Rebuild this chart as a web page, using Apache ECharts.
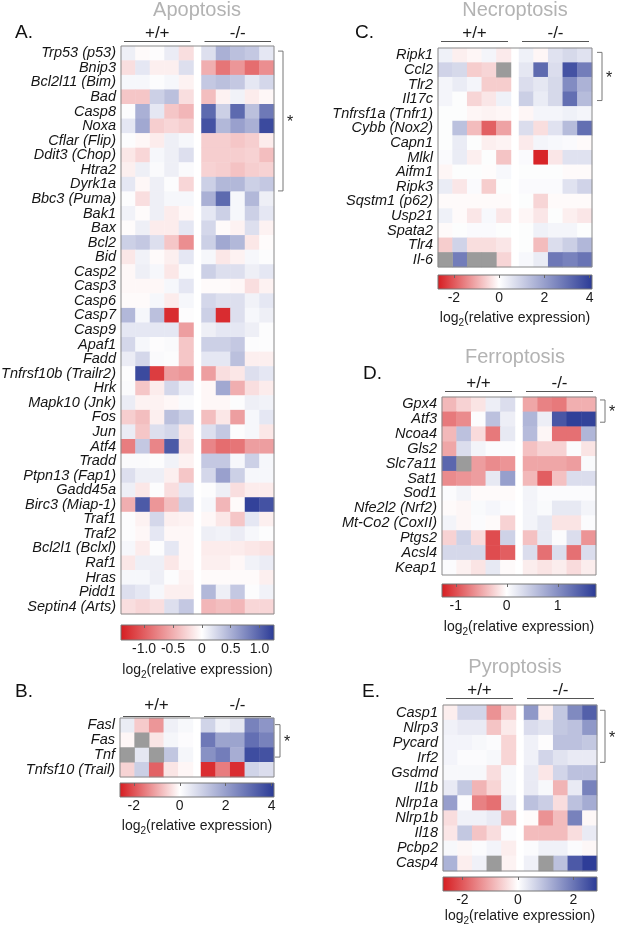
<!DOCTYPE html>
<html>
<head>
<meta charset="utf-8">
<script src="https://cdn.jsdelivr.net/npm/echarts@6/dist/echarts.min.js"></script>
<style>
html, body { margin: 0; padding: 0; background: #fff; }
#chart { width: 617px; height: 927px; }
</style>
</head>
<body>
<div id="chart"></div>
<script>
// ---- data (log2 relative expression, 5 +/+ and 5 -/- samples per gene) ----
const groupNames = ['+/+', '-/-']
const samples = ['1', '2', '3', '4', '5']

const apoGenes = ['Trp53 (p53)', 'Bnip3', 'Bcl2l11 (Bim)', 'Bad', 'Casp8', 'Noxa', 'Cflar (Flip)', 'Ddit3 (Chop)',
  'Htra2', 'Dyrk1a', 'Bbc3 (Puma)', 'Bak1', 'Bax', 'Bcl2', 'Bid', 'Casp2', 'Casp3', 'Casp6', 'Casp7', 'Casp9',
  'Apaf1', 'Fadd', 'Tnfrsf10b (Trailr2)', 'Hrk', 'Mapk10 (Jnk)', 'Fos', 'Jun', 'Atf4', 'Tradd', 'Ptpn13 (Fap1)',
  'Gadd45a', 'Birc3 (Miap-1)', 'Traf1', 'Traf2', 'Bcl2l1 (Bclxl)', 'Raf1', 'Hras', 'Pidd1', 'Septin4 (Arts)']
const apoWT = [
  [0.1, -0.03, 0.0, 0.12, -0.2], [-0.2, 0.15, -0.1, -0.1, 0.2], [0.05, 0.05, 0.02, 0.05, -0.08],
  [-0.35, -0.35, 0.3, 0.4, -0.2], [0.02, 0.5, 0.15, -0.35, -0.45], [0.15, 0.55, -0.3, -0.25, -0.3],
  [0.02, -0.05, -0.12, 0.1, 0.05], [-0.15, -0.25, 0.05, 0.1, 0.2], [-0.1, 0.1, 0.03, 0.1, 0.03],
  [0.15, -0.05, 0.1, 0.02, -0.25], [0.02, -0.2, 0.1, 0.05, 0.05], [0.08, -0.02, 0.1, -0.12, -0.05],
  [-0.02, 0.1, -0.12, -0.12, 0.15], [0.3, 0.35, 0.2, -0.35, -0.7], [-0.15, 0.08, -0.03, -0.1, 0.15],
  [-0.05, 0.1, 0.05, -0.15, 0.03], [-0.05, -0.05, -0.05, 0.05, 0.15], [-0.03, -0.03, 0.05, -0.12, 0.05],
  [0.45, 0.05, 0.4, -1.3, 0.0], [0.15, 0.15, 0.15, 0.15, -0.6], [0.25, 0.05, 0.0, 0.03, -0.35],
  [0.12, 0.25, 0.03, 0.02, -0.35], [0.02, 1.15, -1.2, -0.6, -0.65], [0.03, -0.35, -0.12, 0.25, 0.12],
  [0.12, -0.08, -0.08, -0.05, 0.03], [-0.3, -0.4, -0.1, 0.4, 0.3], [0.12, -0.35, 0.2, 0.25, -0.15],
  [-0.8, 0.35, -0.75, 1.05, -0.2], [0.03, 0.03, 0.02, 0.08, -0.08], [0.2, 0.1, 0.1, -0.1, -0.35],
  [0.1, -0.15, 0.02, -0.2, 0.15], [-0.5, 1.05, -0.65, -0.4, 0.3], [0.02, -0.08, 0.25, -0.1, -0.08],
  [0.02, -0.05, 0.15, -0.05, -0.05], [0.05, -0.12, 0.02, 0.15, -0.05], [-0.15, 0.1, 0.1, -0.15, -0.05],
  [0.05, 0.05, 0.1, 0.02, -0.08], [0.2, 0.15, 0.05, -0.1, -0.1], [-0.2, -0.25, -0.2, 0.2, 0.35]
]
const apoKO = [
  [0.2, 0.5, 0.4, 0.35, 0.15], [-0.5, -0.85, -0.65, -0.9, -0.7], [0.35, 0.4, 0.35, 0.15, 0.25],
  [-0.4, -0.08, 0.08, -0.12, -0.05], [0.95, 0.3, 0.95, 0.4, 0.85], [1.1, 0.45, 0.6, 0.5, 1.15],
  [-0.3, -0.3, -0.35, -0.3, -0.12], [-0.3, -0.3, -0.3, -0.28, -0.4], [-0.28, -0.3, -0.38, -0.3, -0.28],
  [0.3, 0.45, 0.45, 0.3, 0.35], [0.5, 0.95, 0.05, 0.45, 0.1], [0.15, 0.3, 0.05, 0.3, 0.15],
  [0.25, -0.03, -0.08, 0.2, -0.08], [0.3, 0.55, 0.45, -0.15, -0.02], [0.05, -0.15, -0.08, 0.05, 0.02],
  [0.3, 0.2, 0.2, 0.1, 0.15], [-0.03, -0.03, -0.05, -0.2, -0.08], [0.25, 0.2, 0.2, 0.08, 0.15],
  [0.3, -1.3, 0.2, 0.05, 0.1], [0.1, 0.15, 0.15, 0.1, 0.02], [0.3, 0.3, 0.35, 0.02, 0.02],
  [0.15, 0.15, 0.4, -0.1, -0.1], [-0.6, -0.2, -0.15, 0.2, 0.15], [-0.05, 0.55, -0.5, -0.2, -0.12],
  [-0.05, -0.05, 0.02, 0.1, 0.08], [-0.4, -0.15, -0.6, 0.05, 0.15], [0.2, 0.35, 0.02, 0.05, -0.15],
  [-0.75, -0.9, -0.85, -0.6, -0.6], [0.35, 0.35, 0.05, 0.3, 0.05], [0.25, 0.6, 0.3, 0.05, 0.05],
  [0.02, 0.1, -0.2, -0.12, -0.12], [0.05, -0.45, -0.03, 1.2, 1.1], [-0.05, -0.15, -0.35, 0.15, -0.1],
  [0.1, 0.08, 0.12, 0.05, 0.02], [-0.12, -0.12, -0.12, -0.15, -0.18], [-0.1, -0.1, -0.05, 0.08, 0.12],
  [-0.03, -0.03, -0.03, -0.03, -0.1], [0.45, 0.1, 0.35, 0.02, 0.08], [-0.45, -0.4, -0.45, -0.25, -0.25]
]
const apoRange = [-1.4, 1.25]
const apoTicks = [-1.0, -0.5, 0, 0.5, 1.0]

const extGenes = ['Fasl', 'Fas', 'Tnf', 'Tnfsf10 (Trail)']
const extWT = [[0.4, -0.6, -1.2, 0.3, 0.15], [-0.1, null, -0.3, 0.2, 0.05], [null, 0.5, null, 1.2, 0.2], [-0.5, 1.0, -1.8, -0.3, -0.1]]
const extKO = [[0.9, 0.3, 0.5, 2.6, 2.2], [2.8, 1.9, 1.9, 3.0, 2.6], [2.3, 2.7, 1.7, 3.7, 3.6], [-2.4, -1.5, -2.4, 0.9, 0.7]]
const extRange = [-2.6, 4.1]
const extTicks = [-2, 0, 2, 4]

const necGenes = ['Ripk1', 'Ccl2', 'Tlr2', 'Il17c', 'Tnfrsf1a (Tnfr1)', 'Cybb (Nox2)', 'Capn1', 'Mlkl', 'Aifm1',
  'Ripk3', 'Sqstm1 (p62)', 'Usp21', 'Spata2', 'Tlr4', 'Il-6']
const necWT = [
  [0.3, -0.2, -0.1, 0.2, -0.25], [0.9, 0.8, -0.6, -0.5, null], [0.2, 0.4, 0.2, -0.6, -0.6], [0.2, 0.05, -0.5, -0.3, 0.3],
  [0.05, 0.05, -0.1, -0.15, -0.1], [0.05, 1.3, -0.8, -1.9, -1.1], [0.05, 0.4, 0.05, -0.2, -0.15], [0.1, 0.4, -0.2, 0.05, -0.7],
  [-0.1, 0.05, 0.05, -0.02, 0.15], [0.4, -0.3, 0.1, -0.6, 0.05], [-0.05, -0.05, -0.05, -0.05, -0.05], [0.3, -0.05, -0.3, 0.15, -0.3],
  [-0.05, 0.05, 0.1, 0.1, 0.05], [-0.6, 0.9, -0.4, -0.4, -0.3], [null, 2.7, null, null, -0.5]
]
const necKO = [
  [0.3, -0.1, 0.6, 0.8, 0.6], [0.5, 3.1, 0.7, 3.6, 2.7], [0.7, 0.5, 0.8, 2.4, 1.6], [1.0, 0.4, 0.8, 3.0, 1.4],
  [-0.1, 0.2, 0.2, 0.3, 0.2], [0.7, -0.4, 0.6, 1.4, 3.0], [-0.25, 0.2, 0.15, 0.1, -0.05], [0.1, -2.6, -0.3, 0.6, 0.6],
  [0.05, 0.05, 0.05, -0.05, -0.05], [0.1, 0.1, 0.1, 0.6, 0.9], [0.05, -0.5, -0.05, -0.05, -0.05], [-0.1, -0.3, 0.05, -0.2, -0.3],
  [0.05, 0.3, 0.2, 0.2, 0.05], [0.05, -0.8, 0.7, 1.0, 1.5], [0.15, 0.4, 2.8, 2.6, 2.9]
]
const necRange = [-2.7, 4.1]
const necTicks = [-2, 0, 2, 4]

const ferGenes = ['Gpx4', 'Atf3', 'Ncoa4', 'Gls2', 'Slc7a11', 'Sat1', 'Sod1', 'Nfe2l2 (Nrf2)', 'Mt-Co2 (CoxII)',
  'Ptgs2', 'Acsl4', 'Keap1']
const ferWT = [
  [-0.4, -0.25, -0.15, 0.15, 0.3], [-0.75, -0.65, 0.02, 0.55, 0.15], [-0.4, 0.55, -0.2, -0.75, 0.2],
  [-0.5, 0.3, 0.1, 0.03, 0.03], [1.35, null, -0.55, -0.65, -0.6], [-0.65, -0.6, -0.55, 0.2, 0.85],
  [0.03, 0.1, -0.03, -0.03, -0.03], [-0.03, -0.05, 0.05, 0.08, 0.03], [0.1, -0.05, 0.03, -0.03, -0.25],
  [-0.25, 0.4, -0.2, -1.0, 0.4], [0.35, 0.35, 0.35, -1.0, -0.9], [0.03, -0.08, -0.15, 0.2, -0.03]
]
const ferKO = [
  [-0.5, -0.7, -0.75, -0.45, -0.45], [0.65, 0.15, 1.5, 1.7, 1.68], [0.6, -0.05, -0.8, -0.8, 0.65],
  [-0.35, -0.25, -0.25, 0.03, -0.15], [-0.5, -0.5, -0.5, -0.55, 0.05], [-0.4, -0.9, -0.35, 0.3, 0.3],
  [0.1, 0.03, 0.03, 0.03, 0.03], [0.1, 0.05, 0.2, 0.2, 0.1], [0.1, 0.2, -0.15, -0.15, 0.03],
  [-0.35, 0.2, 0.03, 0.3, -0.6], [0.3, -0.8, 0.3, -0.8, 0.3], [-0.1, -0.15, -0.1, -0.2, -0.1]
]
const ferRange = [-1.27, 1.75]
const ferTicks = [-1, 0, 1]

const pyrGenes = ['Casp1', 'Nlrp3', 'Pycard', 'Irf2', 'Gsdmd', 'Il1b', 'Nlrp1a', 'Nlrp1b', 'Il18', 'Pcbp2', 'Casp4']
const pyrWT = [
  [-0.2, 0.6, 0.6, -1.3, -0.6], [0.2, 0.3, 0.3, -0.7, -0.25], [0.15, 0.15, 0.1, 0.05, -0.5], [0.15, 0.05, 0.05, 0.1, -0.5],
  [0.1, 0.1, 0.1, -0.4, 0.1], [0.3, 0.8, -0.9, -0.5, 0.1], [1.4, 0.05, -1.5, -1.7, 0.3], [-0.4, 0.2, 0.2, 0.3, -0.9],
  [-0.3, 0.8, -0.7, -0.4, 0.05], [0.1, -0.1, 0.05, 0.15, -0.2], [1.1, -0.2, 0.2, null, -0.15]
]
const pyrKO = [
  [1.5, -0.2, 0.8, 1.7, 2.3], [0.5, 0.4, 0.8, 0.9, 1.5], [0.2, 0.02, 0.9, 0.9, 0.8], [0.2, 0.6, 0.4, 0.3, 0.3],
  [0.3, -0.3, 0.6, 0.9, 0.9], [0.3, 0.1, -0.9, 0.3, 1.8], [0.9, 0.7, -0.4, 0.9, 1.2], [-0.05, -1.3, -0.8, 1.8, -0.1],
  [-0.8, -0.8, -0.8, -0.4, 0.3], [0.05, 0.2, 0.2, 0.05, -0.1], [0.2, null, 0.9, 2.4, 2.8]
]
const pyrRange = [-2.7, 2.85]
const pyrTicks = [-2, 0, 2]

// ---- layout (pixels) ----
const layout = {
  A: { L: 121, R: 274, T: 46, B: 614, barT: 625, barB: 640, headY: 33, lineY: 41, tagX: 15, tagY: 33, titleX: 197, titleY: 10, logY: 670, braceX: 283, brace: [0.35, 9.95] },
  B: { L: 120, R: 274, T: 718, B: 777, barT: 783, barB: 797, headY: 705, lineY: 716, tagX: 15, tagY: 692, logY: 826, braceX: 280, brace: [0.45, 2.65] },
  C: { L: 438, R: 592, T: 48, B: 267, barT: 275, barB: 289, headY: 33, lineY: 41, tagX: 355, tagY: 33, titleX: 515, titleY: 10, logY: 318, braceX: 602, brace: [0.3, 3.6] },
  D: { L: 442, R: 596, T: 397, B: 575, barT: 584, barB: 597, headY: 383, lineY: 391, tagX: 363, tagY: 374, titleX: 515, titleY: 357, logY: 627, braceX: 605, brace: [0.2, 1.7] },
  E: { L: 443, R: 597, T: 705, B: 871, barT: 877, barB: 891, headY: 690, lineY: 698, tagX: 362, tagY: 692, titleX: 515, titleY: 667, logY: 916, braceX: 605, brace: [0.35, 3.8] }
}

const panels = [
  { key: 'A', title: 'Apoptosis', genes: apoGenes, wt: apoWT, ko: apoKO, range: apoRange, ticks: apoTicks, digits: 1 },
  { key: 'B', title: '', genes: extGenes, wt: extWT, ko: extKO, range: extRange, ticks: extTicks, digits: 0 },
  { key: 'C', title: 'Necroptosis', genes: necGenes, wt: necWT, ko: necKO, range: necRange, ticks: necTicks, digits: 0 },
  { key: 'D', title: 'Ferroptosis', genes: ferGenes, wt: ferWT, ko: ferKO, range: ferRange, ticks: ferTicks, digits: 0 },
  { key: 'E', title: 'Pyroptosis', genes: pyrGenes, wt: pyrWT, ko: pyrKO, range: pyrRange, ticks: pyrTicks, digits: 0 }
]

const FONT = '"Liberation Sans", Arial, Helvetica, sans-serif'
const RED = [214, 28, 32]
const WHITE = [255, 255, 255]
const BLUE = [42, 58, 150]
const GAP = 8

const mix = (a, b, t) => 'rgb(' + a.map((v, i) => Math.round(v + (b[i] - v) * t)).join(',') + ')'
const colorAt = (v, min, max) => (v < 0 ? mix(WHITE, RED, v / min) : mix(WHITE, BLUE, v / max))

const grid = []
const xAxis = []
const yAxis = []
const series = []
const visualMap = []
const graphic = []

const txt = (x, y, text, size, color, extra) => ({
  type: 'text', x: x, y: y, z: 100,
  style: Object.assign({ text: text, fontSize: size, fontFamily: FONT, fill: color, align: 'center', verticalAlign: 'middle', textAlign: 'center', textVerticalAlign: 'middle' }, extra || {})
})
const seg = (x1, y1, x2, y2, color) => ({
  type: 'line', z: 100, shape: { x1: x1, y1: y1, x2: x2, y2: y2 }, style: { stroke: color, lineWidth: 1 }
})

panels.forEach((p) => {
  const lay = layout[p.key]
  const cw = (lay.R - lay.L - GAP) / 10
  const h = lay.B - lay.T
  const rowH = h / p.genes.length
  const min = p.range[0]
  const max = p.range[1]
  const valueSeries = []

  ;[p.wt, p.ko].forEach((rows, half) => {
    const gi = grid.length
    const left = lay.L + half * (5 * cw + GAP)
    grid.push({ left: left, top: lay.T, width: 5 * cw, height: h, outerBoundsMode: 'none' })
    const xi = xAxis.length
    xAxis.push({ type: 'category', gridIndex: gi, data: samples, show: false })
    const yi = yAxis.length
    yAxis.push({
      type: 'category', gridIndex: gi, data: p.genes, inverse: true, show: half === 0,
      axisLine: { show: false }, axisTick: { show: false },
      axisLabel: { interval: 0, margin: 5, fontSize: 14.5, fontStyle: 'italic', fontFamily: FONT, color: '#151515' }
    })
    const vals = []
    const missing = []
    rows.forEach((r, ri) => r.forEach((v, ci) => {
      if (v === null) missing.push([ci, ri, 0])
      else vals.push([ci, ri, v])
    }))
    valueSeries.push(series.length)
    series.push({ type: 'heatmap', xAxisIndex: xi, yAxisIndex: yi, data: vals, itemStyle: { borderWidth: 0 }, emphasis: { disabled: true } })
    if (missing.length) {
      series.push({ type: 'heatmap', xAxisIndex: xi, yAxisIndex: yi, data: missing, itemStyle: { color: '#9b9b9b', borderWidth: 0 }, emphasis: { disabled: true } })
    }
    // group header
    const cx = left + 2.5 * cw
    graphic.push(txt(cx, lay.headY, groupNames[half], 17, '#1a1a1a'))
    graphic.push(seg(left + 3, lay.lineY + 0.5, left + 5 * cw - 3, lay.lineY + 0.5, '#555'))
  })

  const stops = []
  for (let i = 0; i <= 60; i++) stops.push(colorAt(min + (max - min) * i / 60, min, max))
  visualMap.push({ type: 'continuous', show: false, seriesIndex: valueSeries, dimension: 2, min: min, max: max, inRange: { color: stops } })

  // colour bar
  const bi = grid.length
  grid.push({ left: lay.L, top: lay.barT, width: lay.R - lay.L, height: lay.barB - lay.barT, outerBoundsMode: 'none' })
  const bx = xAxis.length
  const fmt = (v) => (v === 0 ? '0' : v.toFixed(p.digits))
  xAxis.push({
    type: 'value', gridIndex: bi, min: min, max: max, position: 'bottom',
    axisLine: { show: false }, splitLine: { show: false }, axisTick: { show: false },
    axisLabel: { customValues: p.ticks, formatter: fmt, fontSize: 14, fontFamily: FONT, color: '#1a1a1a', margin: 2 }
  })
  xAxis.push({
    type: 'value', gridIndex: bi, min: min, max: max, position: 'top', z: 5,
    axisLine: { show: false }, splitLine: { show: false }, axisLabel: { show: false },
    axisTick: { show: true, inside: true, length: 3, customValues: p.ticks, lineStyle: { color: '#666', width: 1 } }
  })
  const by = yAxis.length
  yAxis.push({ type: 'value', gridIndex: bi, min: 0, max: 1, show: false })
  const zero = -min / (max - min)
  const gradient = {
    type: 'linear', x: 0, y: 0, x2: 1, y2: 0,
    colorStops: [{ offset: 0, color: mix(WHITE, RED, 1) }, { offset: zero, color: mix(WHITE, RED, 0) }, { offset: 1, color: mix(WHITE, BLUE, 1) }]
  }
  series.push({
    type: 'custom', xAxisIndex: bx, yAxisIndex: by, data: [[min, 0, max, 1]], encode: { x: [0, 2], y: [1, 3] },
    renderItem: (params, api) => {
      const a = api.coord([api.value(0), api.value(3)])
      const b = api.coord([api.value(2), api.value(1)])
      return { type: 'rect', shape: { x: a[0], y: a[1], width: b[0] - a[0], height: b[1] - a[1] }, style: { fill: gradient, stroke: '#777', lineWidth: 1 } }
    }
  })

  // frame, labels, bracket
  graphic.push({ type: 'rect', z: 100, shape: { x: lay.L, y: lay.T, width: lay.R - lay.L, height: h }, style: { fill: 'none', stroke: '#8a8a8a', lineWidth: 1 } })
  graphic.push(txt(lay.tagX, lay.tagY, p.key + '.', 19, '#111', { align: 'left', textAlign: 'left' }))
  if (p.title) graphic.push(txt(lay.titleX, lay.titleY, p.title, 20, '#b3b3b3'))
  graphic.push({
    type: 'text', x: (lay.L + lay.R) / 2, y: lay.logY, z: 100,
    style: {
      text: '{a|log}{s|2}{a|(relative expression)}', align: 'center', verticalAlign: 'middle', textAlign: 'center', textVerticalAlign: 'middle',
      rich: {
        a: { fontSize: 14, fontFamily: FONT, fill: '#1a1a1a', lineHeight: 20 },
        s: { fontSize: 10, fontFamily: FONT, fill: '#1a1a1a', lineHeight: 10, verticalAlign: 'bottom' }
      }
    }
  })
  const y1 = lay.T + lay.brace[0] * rowH
  const y2 = lay.T + lay.brace[1] * rowH
  graphic.push({
    type: 'polyline', z: 100,
    shape: { points: [[lay.braceX - 5, y1], [lay.braceX, y1], [lay.braceX, y2], [lay.braceX - 5, y2]] },
    style: { fill: 'none', stroke: '#777', lineWidth: 1 }
  })
  graphic.push(txt(lay.braceX + 7, (y1 + y2) / 2 + 2, '*', 16, '#1a1a1a'))
})

const chart = echarts.init(document.getElementById('chart'), null, { renderer: 'canvas' })
chart.setOption({
  animation: false,
  backgroundColor: '#fff',
  grid: grid,
  xAxis: xAxis,
  yAxis: yAxis,
  visualMap: visualMap,
  series: series,
  graphic: graphic
})
</script>
</body>
</html>
